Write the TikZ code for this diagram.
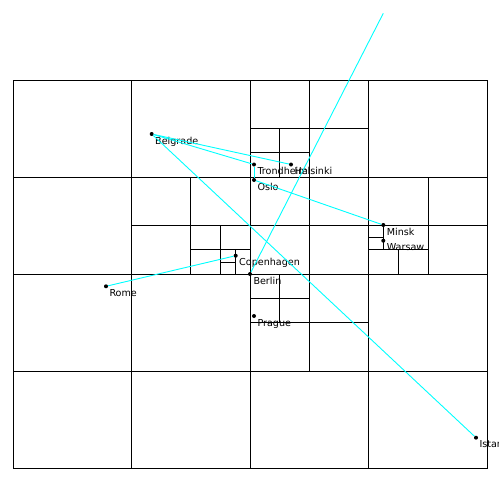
\documentclass[tikz,border=0pt]{standalone}
\usepackage{fontspec}
\newfontfamily\cityfont{DejaVu Sans}
\usetikzlibrary{calc}
\definecolor{linkcyan}{RGB}{0,255,255}

\begin{document}
\begin{tikzpicture}[
    x=1pt, y=-1pt,
    cell/.style={draw=black, line width=0.9pt},
    city/.style={
        circle, fill=black, inner sep=0pt, minimum size=4pt
    },
    link/.style={draw=linkcyan, line width=0.9pt},
    lbl/.style={
        anchor=base west, inner sep=0pt,
        font=\cityfont\fontsize{9.6}{11}\selectfont
    }
]
\useasboundingbox (0,0) rectangle (499,479);

% cells
\draw[cell] (13,80) rectangle (487,468);
\draw[cell] (13,177) -- (487,177);
\draw[cell] (13,274) -- (487,274);
\draw[cell] (13,371) -- (487,371);
\draw[cell] (131.5,80) -- (131.5,468);
\draw[cell] (250,80) -- (250,468);
\draw[cell] (368.5,80) -- (368.5,468);
\draw[cell] (309.25,80) -- (309.25,371);
\draw[cell] (250,128.5) -- (368.5,128.5);
\draw[cell] (250,152.75) -- (309.25,152.75);
\draw[cell] (279.6,128.5) -- (279.6,177);
\draw[cell] (131.5,225.5) -- (487,225.5);
\draw[cell] (190.75,177) -- (190.75,274);
\draw[cell] (428.25,177) -- (428.25,274);
\draw[cell] (190.75,249.75) -- (250,249.75);
\draw[cell] (220.4,225.5) -- (220.4,274);
\draw[cell] (235.2,249.75) -- (235.2,274);
\draw[cell] (220.4,262) -- (235.2,262);
\draw[cell] (368.5,249.75) -- (428.25,249.75);
\draw[cell] (398.4,249.75) -- (398.4,274);
\draw[cell] (383.4,225.5) -- (383.4,249.75);
\draw[cell] (368.5,237.6) -- (383.4,237.6);
\draw[cell] (250,322.5) -- (368.5,322.5);
\draw[cell] (250,298.25) -- (309.25,298.25);
\draw[cell] (279.6,274) -- (279.6,322.5);

% cities
\node[city] (belgrade)   at (151.7,134)   {};
\node[city] (trondheim)  at (254,164.5)   {};
\node[city] (helsinki)   at (291,164.5)   {};
\node[city] (oslo)       at (254,180)     {};
\node[city] (minsk)      at (383.3,225)   {};
\node[city] (warsaw)     at (383.3,240.7) {};
\node[city] (copenhagen) at (235.7,255.7) {};
\node[city] (berlin)     at (250,274)     {};
\node[city] (rome)       at (106,286.3)   {};
\node[city] (prague)     at (254,316)     {};
\node[city] (istanbul)   at (476,437.7)   {};
\coordinate (far) at (383.3,13.3);

\node[lbl] (belgradeL)   at ($(belgrade)+(3.3,10)$)   {Belgrade};
\node[lbl] (trondheimL)  at ($(trondheim)+(3.3,10)$)  {Trondheim};
\node[lbl] (helsinkiL)   at ($(helsinki)+(3.3,10)$)   {Helsinki};
\node[lbl] (osloL)       at ($(oslo)+(3.3,10)$)       {Oslo};
\node[lbl] (minskL)      at ($(minsk)+(3.3,10)$)      {Minsk};
\node[lbl] (warsawL)     at ($(warsaw)+(3.3,10)$)     {Warsaw};
\node[lbl] (copenhagenL) at ($(copenhagen)+(3.3,10)$) {Copenhagen};
\node[lbl] (berlinL)     at ($(berlin)+(3.3,10)$)     {Berlin};
\node[lbl] (romeL)       at ($(rome)+(3.3,10)$)       {Rome};
\node[lbl] (pragueL)     at ($(prague)+(3.3,10)$)     {Prague};
\node[lbl] (istanbulL)   at ($(istanbul)+(3.3,10)$)   {Istanbul};

% links
\draw[link] (belgrade) -- (helsinki);
\draw[link] (belgrade) -- (trondheim);
\draw[link] (belgrade) -- (istanbul);
\draw[link] (trondheim) -- (oslo);
\draw[link] (oslo) -- (minsk);
\draw[link] (rome) -- (copenhagen);
\draw[link] (berlin) -- (far);

\end{tikzpicture}
\end{document}
